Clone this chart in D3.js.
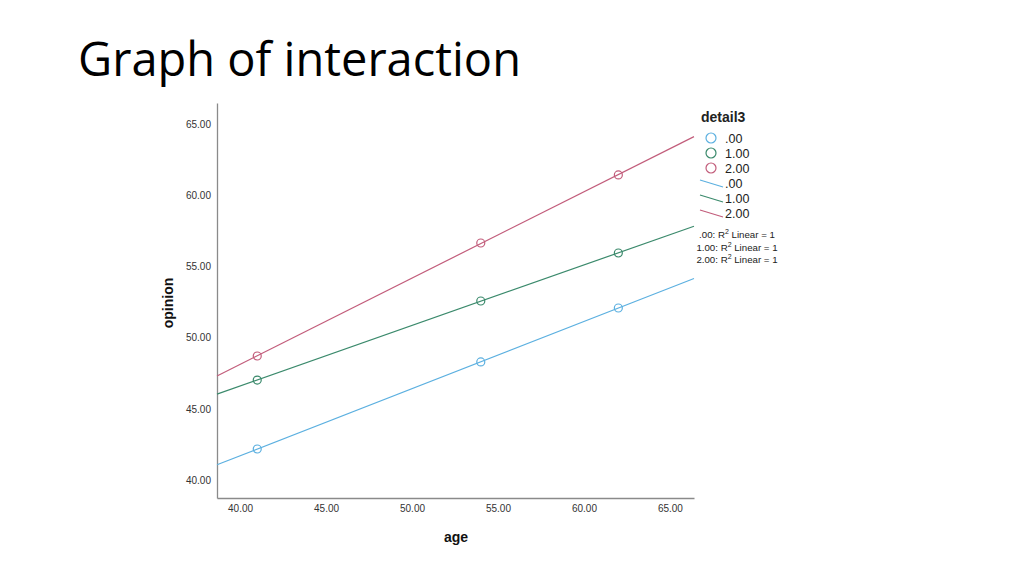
<!DOCTYPE html>
<html>
<head>
<meta charset="utf-8">
<script src="https://cdn.jsdelivr.net/npm/d3@7"></script>
<style>
html,body{margin:0;padding:0;background:#fff;}
svg{display:block;}
</style>
</head>
<body>
<svg id="chart" width="1024" height="575"></svg>
<script>
const groups = [".00", "1.00", "2.00"];
const ages = [41, 54, 62];
const opinion00 = [42.18, 48.29, 52.08];
const opinion100 = [47.02, 52.57, 55.94];
const opinion200 = [48.71, 56.64, 61.42];
const xTicks = [40, 45, 50, 55, 60, 65];
const yTicks = [40, 45, 50, 55, 60, 65];
const colors = ["#5cb0e0", "#3b8a6c", "#c25d7b"];

const seriesValues = [opinion00, opinion100, opinion200];

const svg = d3.select("#chart");

svg.append("text").attr("x", 78).attr("y", 76)
  .attr("font-family", "Open Sans").attr("font-size", 47).attr("fill", "#000")
  .text("Graph of interaction");

const x = d3.scaleLinear().domain([38.66, 66.4]).range([217, 694]);
const y = d3.scaleLinear().domain([38.74, 66.47]).range([498, 103]);

const g = svg.append("g");

// axes
const xAxis = d3.axisBottom(x).tickValues(xTicks).tickFormat(d3.format(".2f")).tickSize(0).tickPadding(7);
const yAxis = d3.axisLeft(y).tickValues(yTicks).tickFormat(d3.format(".2f")).tickSize(0).tickPadding(6);
const gx = g.append("g").attr("transform", "translate(0,498)").call(xAxis);
const gy = g.append("g").attr("transform", "translate(217,0)").call(yAxis);
[gx, gy].forEach(a => {
  a.select(".domain").attr("stroke", "#8a8a8a").attr("stroke-width", 1.3);
  a.selectAll("text").attr("font-family", "Liberation Sans, Arial").attr("font-size", 10).attr("fill", "#333");
});

svg.append("text").attr("x", 456).attr("y", 542).attr("text-anchor", "middle")
  .attr("font-family", "Liberation Sans, Arial").attr("font-weight", "bold").attr("font-size", 14).attr("fill", "#111")
  .text("age");
svg.append("text").attr("transform", "translate(173,303) rotate(-90)").attr("text-anchor", "middle")
  .attr("font-family", "Liberation Sans, Arial").attr("font-weight", "bold").attr("font-size", 14).attr("fill", "#111")
  .text("opinion");

// fit lines
function fit(xs, ys) {
  const mx = d3.mean(xs), my = d3.mean(ys);
  let sxy = 0, sxx = 0;
  xs.forEach((v, i) => { sxy += (v - mx) * (ys[i] - my); sxx += (v - mx) * (v - mx); });
  const b = sxy / sxx;
  return { a: my - b * mx, b };
}
const [x0, x1] = x.domain();
seriesValues.forEach((vals, i) => {
  const f = fit(ages, vals);
  g.append("line")
    .attr("x1", x(x0)).attr("y1", y(f.a + f.b * x0))
    .attr("x2", x(x1)).attr("y2", y(f.a + f.b * x1))
    .attr("stroke", colors[i]).attr("stroke-width", 1.2);
});
seriesValues.forEach((vals, i) => {
  g.selectAll(null).data(ages.map((a, j) => [a, vals[j]])).enter().append("circle")
    .attr("cx", d => x(d[0])).attr("cy", d => y(d[1])).attr("r", 4)
    .attr("fill", "none").attr("stroke", colors[i]).attr("stroke-width", 1.2);
});

// legend
const lg = svg.append("g").attr("font-family", "Liberation Sans, Arial").attr("fill", "#222");
lg.append("text").attr("x", 701).attr("y", 122).attr("font-weight", "bold").attr("font-size", 14).text("detail3");
groups.forEach((name, i) => {
  const cy = 138 + i * 15;
  lg.append("circle").attr("cx", 711).attr("cy", cy).attr("r", 5)
    .attr("fill", "none").attr("stroke", colors[i]).attr("stroke-width", 1.2);
  lg.append("text").attr("x", 725).attr("y", cy + 4.5).attr("font-size", 12.5).text(name);
});
groups.forEach((name, i) => {
  const ly = 183 + i * 15;
  lg.append("line").attr("x1", 700).attr("y1", ly - 3).attr("x2", 723).attr("y2", ly + 4)
    .attr("stroke", colors[i]).attr("stroke-width", 1.2);
  lg.append("text").attr("x", 725).attr("y", ly + 5).attr("font-size", 12.5).text(name);
});
groups.forEach((name, i) => {
  const t = lg.append("text").attr("x", 737).attr("y", 238 + i * 12.5).attr("text-anchor", "middle").attr("font-size", 9.7);
  t.append("tspan").text(name + ": R");
  t.append("tspan").attr("dy", -4).attr("font-size", 7).text("2");
  t.append("tspan").attr("dy", 4).text(" Linear = 1");
});
</script>
</body>
</html>
